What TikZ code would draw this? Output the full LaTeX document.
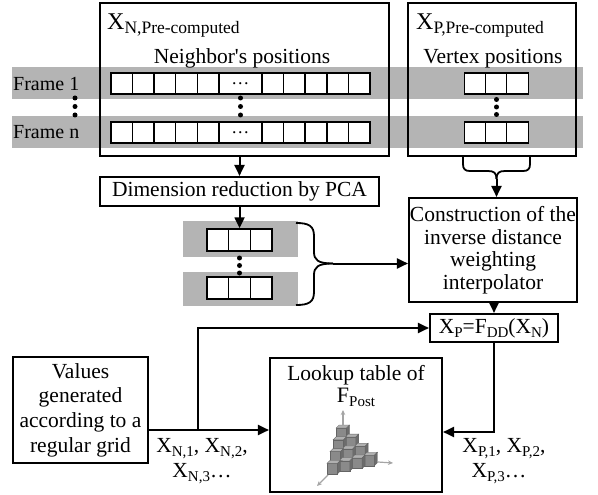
\documentclass[tikz,border=0pt]{standalone}
\usepackage{fontspec}
\setmainfont{Liberation Serif}
\usetikzlibrary{arrows.meta}
\definecolor{bandgray}{RGB}{180,180,180}
\definecolor{cubefront}{RGB}{138,138,138}
\definecolor{cubetop}{RGB}{176,176,176}
\definecolor{cubeside}{RGB}{108,108,108}
\definecolor{cubeedge}{RGB}{100,100,100}
\definecolor{axisgray}{RGB}{165,165,165}
% lowered, smaller text used for subscripts: size, drop, text
\newcommand{\lowsub}[3]{\raisebox{-#2}{\fontsize{#1}{#1}\selectfont #3}}
% one shaded cube of the lookup-table icon, front face top-left at (#1,#2)
\newcommand{\gcube}[2]{%
  \filldraw[fill=cubefront,draw=cubeedge,line width=0.3pt] (#1,#2) rectangle ++(10.5,10.5);
  \filldraw[fill=cubetop,draw=cubeedge,line width=0.3pt] (#1,#2) -- ++(3,-3) -- ++(10.5,0) -- ++(-3,3) -- cycle;
  \filldraw[fill=cubeside,draw=cubeedge,line width=0.3pt] (#1+10.5,#2) -- ++(3,-3) -- ++(0,10.5) -- ++(-3,3) -- cycle;
}
\begin{document}
\begin{tikzpicture}[x=1pt,y=-1pt,
  font=\fontsize{21.5}{22.5}\selectfont,
  box/.style={draw,line width=2.1pt,inner sep=0pt},
  cell/.style={draw,fill=white,line width=1.5pt,minimum width=21.6pt,minimum height=21pt,inner sep=0pt},
  pcell/.style={cell,minimum width=21.7pt,minimum height=22pt},
  arr/.style={line width=2pt,-{Triangle[length=11pt,width=10pt]}},
  bracepen/.style={line width=1.8pt},
  vdot/.style={circle,fill=black,inner sep=0pt,minimum size=5pt},
  txt/.style={inner sep=0pt},
  axis/.style={draw=axisgray,line width=1.2pt,-{Stealth[length=5pt,width=4.5pt]}}
]
\useasboundingbox (0,0) rectangle (598,495);

% frame bands
\fill[bandgray] (12,67) rectangle (583,99);
\fill[bandgray] (12,116) rectangle (583,148);

% pre-computed data boxes
\node[box,minimum width=289pt,minimum height=153pt] (nbox) at (244.5,79.5) {};
\node[box,minimum width=168pt,minimum height=153pt] (pbox) at (492,79.5) {};

\node[txt,anchor=base west] (ntitle) at (107,29.5) {\fontsize{24}{24}\selectfont X\lowsub{17.5}{4pt}{N,Pre-computed}};
\node[txt,anchor=base] (nsub) at (242,63.5) {Neighbor\textquotesingle s positions};
\node[txt,anchor=base west] (ptitle) at (416,29.5) {\fontsize{24}{24}\selectfont X\lowsub{17.5}{4pt}{P,Pre-computed}};
\node[txt,anchor=base] (psub) at (493,63.5) {Vertex positions};

\node[txt,anchor=west,font=\fontsize{20}{20}\selectfont] (f1) at (13,83.5) {Frame 1};
\node[txt,anchor=west,font=\fontsize{20}{20}\selectfont] (fn) at (13,132.5) {Frame n};

% neighbour position rows
\foreach \row/\yy in {a/83.5,b/132.5}{
  \foreach \i in {0,...,4}{
    \node[cell] (n\row\i) at (111+10.79+21.58*\i,\yy) {};
    \node[cell] (n\row r\i) at (111+151.06+10.79+21.58*\i,\yy) {};
  }
  \node[cell,minimum width=43.16pt,font=\fontsize{18}{18}\selectfont] (n\row m) at (240.48,\yy) {\ldots};
  \foreach \i in {0,1,2}{
    \node[cell] (p\row\i) at (465+10.5+21*\i,\yy) {};
  }
}
\foreach \yy [count=\k] in {98,106.5,115}{
  \node[vdot] (fd\k) at (75,\yy) {};
  \node[vdot] (nd\k) at (240.5,\yy) {};
}
\foreach \yy [count=\k] in {99.5,107,114.5}{
  \node[vdot] (pd\k) at (496.5,\yy) {};
}

% PCA step and reduced rows
\node[box,minimum width=279pt,minimum height=29pt] (dim) at (239.5,191.5) {Dimension reduction by PCA};
\fill[bandgray] (183,221) rectangle (298,257);
\fill[bandgray] (183,272) rectangle (298,306);
\foreach \row/\yy in {a/240,b/288}{
  \foreach \i in {0,1,2}{
    \node[pcell] (r\row\i) at (207+10.85+21.7*\i,\yy) {};
  }
}
\foreach \yy [count=\k] in {258,265.5,273}{
  \node[vdot] (rd\k) at (239.5,\yy) {};
}

% interpolator and its function
\node[box,minimum width=168pt,minimum height=104pt,align=center] (ctor) at (493,250)
  {Construction of the\\inverse distance\\weighting\\interpolator};
\node[box,minimum width=128pt,minimum height=28pt] (xp) at (494,328)
  {X\lowsub{15}{4pt}{P}=F\lowsub{15}{4pt}{DD}(X\lowsub{15}{4pt}{N})};

% grid values and lookup table
\node[box,minimum width=135pt,minimum height=106pt,align=center,font=\fontsize{21.5}{24.7}\selectfont] (values) at (80.5,410)
  {Values\\generated\\according to a\\regular grid};
\node[box,minimum width=172pt,minimum height=134pt] (lookup) at (356,425) {};
\node[txt,anchor=base] (ltitle) at (356,380) {Lookup table of};
\node[txt,anchor=base] (fpost) at (356,402) {\fontsize{22}{22}\selectfont F\lowsub{15}{4pt}{Post}};

% cube icon
\foreach \r in {0,...,3}{
  \foreach \c in {\r,...,0}{
    \pgfmathsetmacro{\cx}{336-3*\r+12.3*\c}
    \pgfmathsetmacro{\cy}{428+11.8*\r-2.7*\c}
    \gcube{\cx}{\cy}
  }
}
\draw[axis] (343,425) -- (343,410);
\draw[axis] (378,462) -- (393,463);
\draw[axis] (328,475) -- (317,486);

% braces
\draw[bracepen] (463,157) -- (463,164) .. controls (463,169) and (465,171) .. (470,171) -- (488,171) .. controls (494,171) and (496.5,173) .. (496.5,179);
\draw[bracepen] (530,157) -- (530,164) .. controls (530,169) and (528,171) .. (523,171) -- (505,171) .. controls (499,171) and (496.5,173) .. (496.5,179);
\coordinate (ptip) at (496.5,179);
\draw[bracepen] (296,223) .. controls (309,223) and (314,226) .. (314,236) -- (314,252) .. controls (314,260) and (318,263.5) .. (333,263.5);
\draw[bracepen] (296,305) .. controls (309,305) and (314,302) .. (314,292) -- (314,275) .. controls (314,267) and (318,263.5) .. (333,263.5);
\coordinate (ntip) at (333,263.5);

% connectors
\draw[arr] (dim.north |- nbox.south) -- (dim.north);
\draw[arr] (dim.south -| ra1) -- (ra1.north);
\draw[arr] (ptip) -- (ptip |- ctor.north);
\draw[arr] (ntip) -- (ntip -| ctor.west);
\draw[arr] (ctor.south -| xp) -- (xp.north);
\coordinate (gridy) at (0,430);
\coordinate (outy) at (0,432);
\coordinate (branch) at (198,430);
\draw[arr] (values.east |- gridy) -- (lookup.west |- gridy);
\draw[arr] (branch) |- (xp.west);
\draw[arr] (xp.south) |- (lookup.east |- outy);

% sample labels
\node[txt,anchor=base] (nl1) at (202,452) {X\lowsub{15}{4pt}{N,1}, X\lowsub{15}{4pt}{N,2},};
\node[txt,anchor=base] (nl2) at (202,477) {X\lowsub{15}{4pt}{N,3}\ldots};
\node[txt,anchor=base] (pl1) at (504,452) {X\lowsub{15}{4pt}{P,1}, X\lowsub{15}{4pt}{P,2},};
\node[txt,anchor=base] (pl2) at (499,477) {X\lowsub{15}{4pt}{P,3}\ldots};
\end{tikzpicture}
\end{document}
